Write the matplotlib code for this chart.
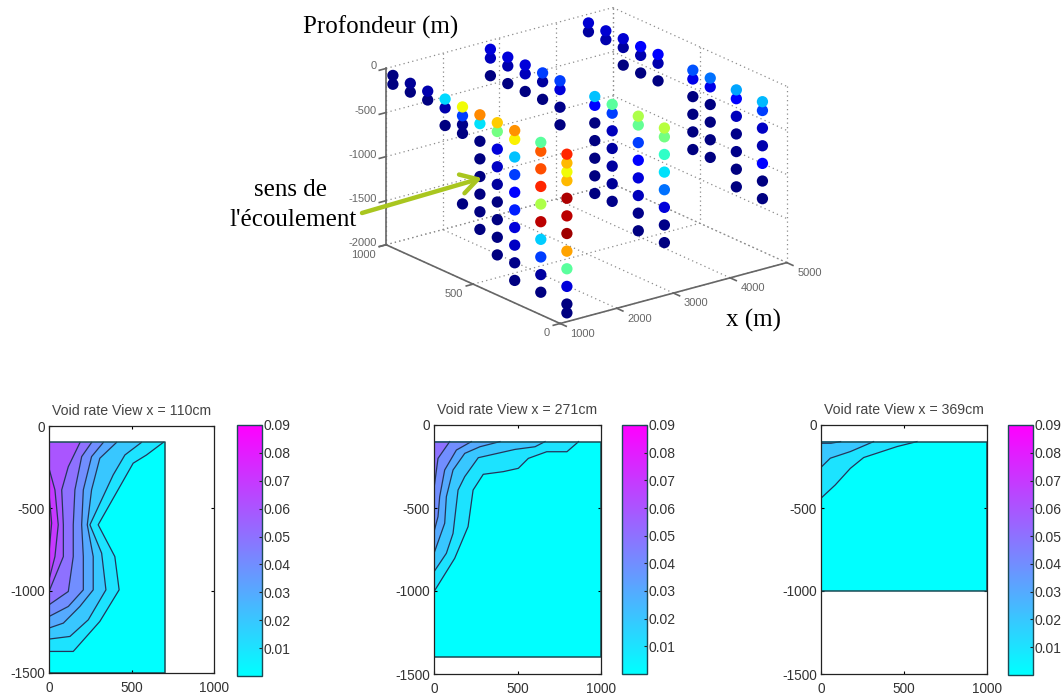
import matplotlib
matplotlib.use('Agg')
import matplotlib.pyplot as plt
from matplotlib.cm import ScalarMappable
from matplotlib.colors import Normalize

W, H = 1064, 695

# 3D view: three x planes, each with columns at fixed y
plane_x = [1120, 2840, 4570]
plane_y = [
    [1000, 900, 800, 700, 600, 500, 400, 300, 150, 0],
    [1000, 900, 800, 700, 600, 400, 300, 150, 0],
    [1000, 900, 800, 700, 600, 400, 300, 150, 0],
]
plane_z = [
    [[-100, -200], [-100, -200], [-100, -200], [-100, -200, -400],
     [-100, -200, -300, -400, -1200],
     [-100, -200, -400, -600, -800, -1000, -1200, -1400],
     [-100, -200, -400, -600, -800, -1000, -1200, -1400, -1600],
     [-100, -200, -400, -600, -800, -1000, -1200, -1400, -1600, -1800],
     [-100, -200, -400, -600, -800, -1000, -1200, -1400, -1600, -1800],
     [-100, -200, -300, -400, -600, -800, -1000, -1200, -1400, -1600, -1800, -1900]],
    [[-100, -200, -400], [-100, -200, -400], [-100, -200, -400], [-100, -200, -400],
     [-100, -200, -400, -600],
     [-100, -200, -400, -600, -800, -1000, -1200],
     [-100, -200, -400, -600, -800, -1000, -1200],
     [-100, -200, -400, -600, -800, -1000, -1200, -1400],
     [-100, -200, -400, -600, -800, -1000, -1200, -1400]],
    [[-100, -200], [-100, -200], [-100, -200, -400], [-100, -200, -400], [-100, -200, -400],
     [-100, -200, -400, -600, -800, -1000],
     [-100, -200, -400, -600, -800, -1000],
     [-100, -200, -400, -600, -800, -1000, -1200],
     [-100, -200, -400, -600, -800, -1000, -1200]],
]
plane_v = [
    [[.02, .02], [.04, .02], [.06, .02], [.35, .06, .02],
     [.65, .2, .03, .02, .02],
     [.77, .36, .02, .02, .02, .02, .02, .02],
     [.70, .5, .1, .08, .05, .02, .02, .02, .02],
     [.76, .66, .33, .2, .14, .17, .1, .08, .03, .02],
     [.47, .82, .83, .87, .57, .95, .34, .2, .05, .02],
     [.87, .72, .65, .72, .96, .95, .97, .74, .47, .1, .02, .02]],
    [[.1, .07, .02], [.1, .06, .02], [.1, .07, .02], [.2, .05, .02],
     [.2, .1, .03, .02],
     [.33, .13, .02, .02, .02, .02, .02],
     [.47, .2, .07, .05, .05, .04, .03],
     [.57, .48, .2, .13, .1, .07, .03, .02],
     [.58, .5, .42, .36, .25, .1, .03, .02]],
    [[.09, .05], [.09, .06], [.09, .05, .02], [.13, .06, .02], [.13, .06, .02],
     [.22, .11, .02, .02, .02, .02],
     [.25, .11, .02, .02, .02, .02],
     [.3, .13, .07, .03, .03, .02, .02],
     [.32, .2, .08, .06, .13, .02, .02]],
]
x_ticks = [1000, 2000, 3000, 4000, 5000]
y_ticks = [0, 500, 1000]
z_ticks = [0, -500, -1000, -1500, -2000]

# contour lines of the three sections, outermost level first (y, z)
titles = ['Void rate View x = 110cm', 'Void rate View x = 271cm', 'Void rate View x = 369cm']
y_extent = [700, 1000, 1000]
z_bottom = [-1500, -1400, -1000]
section_1 = [
    [(692, -100), (591, -176), (510, -226), (298, -600), (399, -793), (425, -995), (308, -1187), (147, -1369), (0, -1369)],
    [(560, -100), (460, -176), (389, -297), (248, -600), (319, -772), (345, -995), (238, -1177), (127, -1278), (0, -1294)],
    [(409, -100), (308, -196), (258, -388), (232, -600), (268, -793), (268, -995), (187, -1096), (87, -1197), (0, -1227)],
    [(329, -100), (258, -186), (208, -388), (198, -600), (208, -793), (208, -995), (117, -1096), (0, -1157)],
    [(258, -100), (198, -186), (157, -388), (147, -600), (147, -793), (117, -1005), (0, -1086)],
    [(188, -100), (117, -247), (77, -388), (87, -600), (87, -793), (0, -1005)],
    [(0, -257), (36, -388), (56, -600), (36, -793), (0, -934)],
    [(0, -408), (16, -590), (0, -772)],
]
section_2 = [
    [(866, -100), (796, -161), (675, -161), (565, -201), (505, -261), (415, -281), (295, -297), (234, -392), (204, -612), (124, -803), (0, -1004)],
    [(665, -100), (605, -131), (485, -147), (265, -197), (184, -311), (144, -392), (114, -653), (74, -773), (0, -884)],
    [(395, -100), (275, -131), (184, -171), (114, -271), (74, -432), (64, -592), (0, -773)],
    [(224, -100), (134, -151), (64, -271), (34, -432), (24, -552), (0, -643)],
    [(94, -100), (24, -201), (0, -382)],
]
section_3 = [
    [(578, -100), (458, -130), (257, -196), (177, -261), (86, -361), (0, -441)],
    [(317, -100), (177, -160), (56, -200), (0, -255)],
    [(118, -100), (60, -110), (0, -110)],
]
sections = [section_1, section_2, section_3]
cbar_ticks = [0.01, 0.02, 0.03, 0.04, 0.05, 0.06, 0.07, 0.08, 0.09]

# pixel boxes: left, right, top, bottom
axes_px = [(49, 214, 426, 673), (434, 601, 425, 674), (821, 987, 425, 674)]
cbar_px = [(237, 262, 425, 676), (622, 647, 425, 674), (1008, 1033, 425, 675)]


def px_box(l, r, t, b):
    return [l / W, 1 - b / H, (r - l) / W, (b - t) / H]


plt.rcParams['font.family'] = 'Liberation Sans'
plt.rcParams['axes.unicode_minus'] = False
fig = plt.figure(figsize=(W / 100, H / 100), dpi=100)

# --- 3D scatter ---
ax3 = fig.add_axes(px_box(227, 927, -175, 525), projection='3d', proj_type='ortho')
ax3.patch.set_visible(False)
ax3.set_axis_off()
ax3.view_init(elev=20.4, azim=-127.6)
ax3.set_box_aspect((286, 285, 188), zoom=0.618)
ax3.set_xlim(1000, 5000, view_margin=0)
ax3.set_ylim(0, 1000, view_margin=0)
ax3.set_zlim(-2000, 0, view_margin=0)

grid = dict(color='#8c8c8c', lw=0.9, ls=(0, (1, 2.6)))
for z in z_ticks:
    ax3.plot([1000, 5000], [1000, 1000], [z, z], **grid)
    ax3.plot([5000, 5000], [1000, 0], [z, z], **grid)
for x in x_ticks:
    z_end = -1000 if x == 5000 else -2000
    ax3.plot([x, x], [1000, 1000], [0, z_end], **grid)
    ax3.plot([x, x], [0, 1000], [-2000, -2000], **grid)
for y in y_ticks:
    ax3.plot([1000, 5000], [y, y], [-2000, -2000], **grid)
    ax3.plot([5000, 5000], [y, y], [0, -2000], **grid)

axis_style = dict(color='#666666', lw=1.2)
ax3.plot([1000, 1000], [1000, 1000], [0, -2000], **axis_style)
ax3.plot([1000, 1000], [1000, 0], [-2000, -2000], **axis_style)
ax3.plot([1000, 5000], [0, 0], [-2000, -2000], **axis_style)
for x in x_ticks:
    ax3.plot([x, x], [0, -35], [-2000, -2000], **axis_style)
    ax3.text(x, -130, -2000, str(x), ha='center', va='center', fontsize=8, color='#666666')
for y in y_ticks:
    ax3.plot([1000, 880], [y, y], [-2000, -2000], **axis_style)
    ax3.text(824, y, -2083, str(y), ha='right', va='center', fontsize=8, color='#666666')
for z in z_ticks:
    ax3.plot([1000, 880], [1000, 1000], [z, z], **axis_style)
    ax3.text(840, 1000, z + 50, str(z), ha='right', va='center', fontsize=8, color='#666666')

px, py, pz, pv = [], [], [], []
for x, ys, zs, vs in zip(plane_x, plane_y, plane_z, plane_v):
    for y, col_z, col_v in zip(ys, zs, vs):
        for z, v in zip(col_z, col_v):
            px.append(x)
            py.append(y)
            pz.append(z)
            pv.append(v)
ax3.scatter(px, py, pz, c=pv, cmap='jet', vmin=0.02, vmax=1, s=66, edgecolors='none',
            depthshade=False, alpha=1)

# --- annotations on the 3D view ---
serif = dict(family='Liberation Serif', color='black', ha='center', va='center')
fig.text(381 / W, 1 - 27 / H, 'Profondeur (m)', fontsize=18, **serif)
fig.text(291 / W, 1 - 190 / H, 'sens de', fontsize=18, **serif)
fig.text(293 / W, 1 - 220 / H, "l'écoulement", fontsize=18, **serif)
fig.text(753 / W, 1 - 320 / H, 'x (m)', fontsize=18, **serif)
fig.add_artist(matplotlib.patches.FancyArrowPatch(
    (362 / W, 1 - 213 / H), (482 / W, 1 - 178 / H), transform=fig.transFigure,
    arrowstyle='->,head_length=12,head_width=7', color='#a9c61f', lw=3.2, shrinkA=0, shrinkB=0))

# --- contour sections ---
norm = Normalize(0, 0.09)
cmap = plt.get_cmap('cool')
line_color = '#24355a'
for i in range(3):
    ax = fig.add_axes(px_box(*axes_px[i]))
    ax.fill([0, y_extent[i], y_extent[i], 0], [-100, -100, z_bottom[i], z_bottom[i]],
            color=cmap(0.0), lw=0)
    for k, line in enumerate(sections[i]):
        ys = [0] + [p[0] for p in line]
        zs = [line[0][1]] + [p[1] for p in line]
        ax.fill(ys, zs, color=cmap(norm(cbar_ticks[k])), lw=0)
    for line in sections[i]:
        ax.plot([p[0] for p in line], [p[1] for p in line], color=line_color, lw=0.9)
    ax.plot([0, y_extent[i], y_extent[i], 0], [-100, -100, z_bottom[i], z_bottom[i]],
            color='#1b4a55', lw=1.1)
    ax.set_xlim(0, 1000)
    ax.set_ylim(-1500, 0)
    ax.set_xticks([0, 500, 1000])
    ax.set_yticks([0, -500, -1000, -1500])
    ax.tick_params(direction='in', top=True, right=True, length=2, width=0.8,
                   labelsize=9.8, labelcolor='#333333')
    ax.tick_params(axis='x', pad=6)
    ax.tick_params(axis='y', pad=3)
    for s in ax.spines.values():
        s.set_linewidth(0.9)
        s.set_color('#222222')
    ax.set_title(titles[i], fontsize=10.2, color='#444444', pad=8)

    cax = fig.add_axes(px_box(*cbar_px[i]))
    cb = fig.colorbar(ScalarMappable(norm=norm, cmap=cmap), cax=cax, ticks=cbar_ticks, format='%.2f')
    cb.outline.set_edgecolor('#1b4a55')
    cb.outline.set_linewidth(1)
    cax.tick_params(direction='in', length=2.5, width=0.8, labelsize=10,
                    labelcolor='#333333', pad=1, color='#222222')

fig.savefig('out.png', dpi=100)
